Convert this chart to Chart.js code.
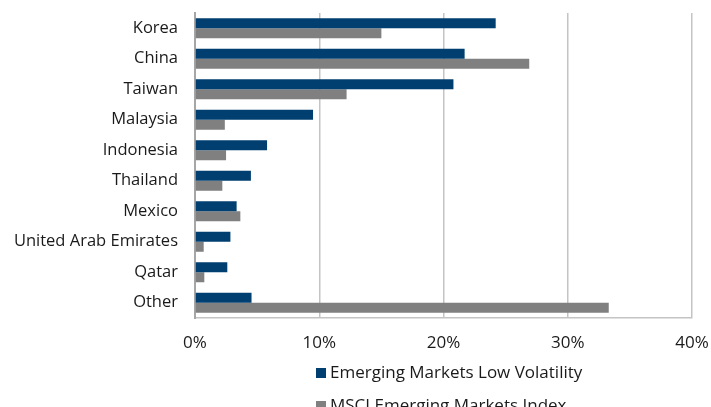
<!DOCTYPE html>
<html><head><meta charset="utf-8">
<script src="https://cdn.jsdelivr.net/npm/chart.js@4/dist/chart.umd.min.js"></script>
<style>html,body{margin:0;padding:0;background:#fff;} #wrap{width:711px;height:407px;position:relative;}</style>
</head><body><div id="wrap"><canvas id="c" width="711" height="407"></canvas></div>
<script>
const categories = ['Korea','China','Taiwan','Malaysia','Indonesia','Thailand','Mexico','United Arab Emirates','Qatar','Other'];
const lowVol = [24.2,21.7,20.8,9.5,5.8,4.5,3.35,2.85,2.6,4.55];
const msci = [15.0,26.9,12.2,2.4,2.5,2.2,3.65,0.7,0.75,33.3];
const seriesNames = ['Emerging Markets Low Volatility','MSCI Emerging Markets Index'];
const seriesColors = ['#003f6f','#808080'];
const xTickValues = [0,10,20,30,40];

const FONT = '"Open Sans", "Liberation Sans", sans-serif';

const customLegend = {
  id: 'customLegend',
  afterDraw(chart) {
    const ctx = chart.ctx;
    const bottom = chart.chartArea.bottom;
    ctx.save();
    ctx.font = '17px ' + FONT;
    ctx.textBaseline = 'middle';
    ctx.textAlign = 'left';
    chart.data.datasets.forEach((ds, i) => {
      const y = bottom + 55 + i * 33;
      ctx.fillStyle = ds.backgroundColor;
      ctx.fillRect(316, y - 5, 10, 10);
      ctx.fillStyle = '#1a1a1a';
      ctx.fillText(ds.label, 330, y);
    });
    ctx.restore();
  }
};

new Chart(document.getElementById('c'), {
  type: 'bar',
  data: {
    labels: categories,
    datasets: [
      {label: seriesNames[0], data: lowVol, backgroundColor: seriesColors[0], categoryPercentage: 0.656, barPercentage: 1.0},
      {label: seriesNames[1], data: msci, backgroundColor: seriesColors[1], categoryPercentage: 0.656, barPercentage: 1.0}
    ]
  },
  options: {
    indexAxis: 'y',
    responsive: false,
    animation: false,
    devicePixelRatio: 1,
    layout: {padding: {top: 13, right: 19, left: 0, bottom: 0}},
    plugins: {legend: {display: false}, tooltip: {enabled: false}},
    scales: {
      x: {
        min: 0, max: 40,
        afterBuildTicks(scale) { scale.ticks = xTickValues.map(v => ({value: v})); },
        afterFit(scale) { scale.height = 89; scale.paddingLeft = 0; scale.paddingRight = 0; },
        ticks: {callback: v => v + '%', color: '#1a1a1a', font: {family: FONT, size: 17}, padding: 15},
        grid: {color: '#c4c4c4', lineWidth: 1.5, drawTicks: false},
        border: {display: true, color: '#c4c4c4', width: 1.5}
      },
      y: {
        afterFit(scale) { scale.width = 195; scale.paddingTop = 0; scale.paddingBottom = 0; },
        ticks: {color: '#1a1a1a', font: {family: FONT, size: 16.5}, padding: 17},
        grid: {display: false, drawTicks: false},
        border: {display: true, color: '#a6a6a6', width: 2}
      }
    }
  },
  plugins: [customLegend]
});
</script></body></html>
